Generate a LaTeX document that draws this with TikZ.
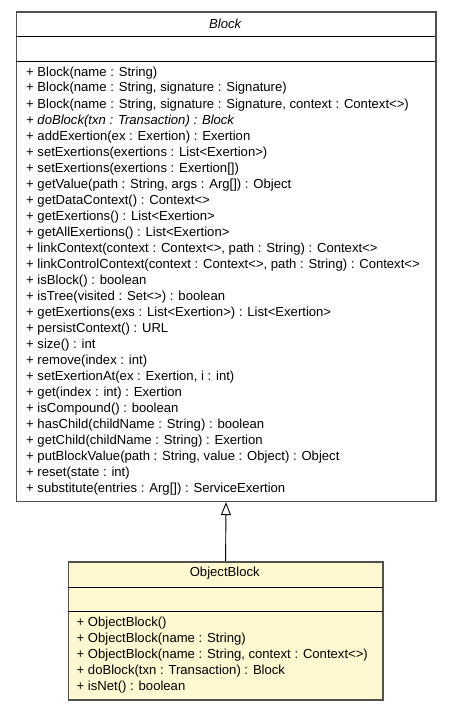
\documentclass[tikz,border=0pt]{standalone}
\usepackage{fontspec}
\setmainfont{Liberation Sans}
\usetikzlibrary{arrows.meta,positioning}

\definecolor{classfill}{RGB}{255,248,208}
\definecolor{classedge}{RGB}{80,80,80}

\tikzset{
  umlclass/.style={draw=classedge, line width=1.6pt, anchor=north west, inner sep=0pt},
  divider/.style={line width=0.8pt},
  member/.style={anchor=base west, inner sep=0pt, font=\fontsize{13.1}{15}\selectfont},
  classname/.style={inner sep=0pt, font=\fontsize{13.1}{15}\selectfont},
  extends/.style={-{Triangle[open,length=13pt,width=10pt]}, line width=0.9pt},
}

\begin{document}
\begin{tikzpicture}[x=1pt,y=-1pt]
\useasboundingbox (0,0) rectangle (451,709);

% superclass
\node[umlclass, minimum width=419.5pt, minimum height=489pt] (block) at (15.5,11.5) {};
\draw[divider] (15.5,36.7) -- (435,36.7);
\draw[divider] (15.5,61) -- (435,61);
\node[classname] (blockname) at (225.25,24) {\itshape Block};
\foreach \m [count=\i from 0] in {
  {+ Block(name : String)},
  {+ Block(name : String, signature : Signature)},
  {+ Block(name : String, signature : Signature, context : Context<>)},
  {\itshape + doBlock(txn : Transaction) : Block},
  {+ addExertion(ex : Exertion) : Exertion},
  {+ setExertions(exertions : List<Exertion>)},
  {+ setExertions(exertions : Exertion[])},
  {+ getValue(path : String, args : Arg[]) : Object},
  {+ getDataContext() : Context<>},
  {+ getExertions() : List<Exertion>},
  {+ getAllExertions() : List<Exertion>},
  {+ linkContext(context : Context<>, path : String) : Context<>},
  {+ linkControlContext(context : Context<>, path : String) : Context<>},
  {+ isBlock() : boolean},
  {+ isTree(visited : Set<>) : boolean},
  {+ getExertions(exs : List<Exertion>) : List<Exertion>},
  {+ persistContext() : URL},
  {+ size() : int},
  {+ remove(index : int)},
  {+ setExertionAt(ex : Exertion, i : int)},
  {+ get(index : int) : Exertion},
  {+ isCompound() : boolean},
  {+ hasChild(childName : String) : boolean},
  {+ getChild(childName : String) : Exertion},
  {+ putBlockValue(path : String, value : Object) : Object},
  {+ reset(state : int)},
  {+ substitute(entries : Arg[]) : ServiceExertion}}
  \node[member] (bm\i) at (26,{76+16*\i}) {\m};

% subclass
\node[umlclass, fill=classfill, minimum width=314.5pt, minimum height=138pt] (objblock) at (67.5,561) {};
\draw[divider] (67.5,587) -- (382,587);
\draw[divider] (67.5,611) -- (382,611);
\node[classname] (objblockname) at (224.75,573) {ObjectBlock};
\foreach \m [count=\i from 0] in {
  {+ ObjectBlock()},
  {+ ObjectBlock(name : String)},
  {+ ObjectBlock(name : String, context : Context<>)},
  {+ doBlock(txn : Transaction) : Block},
  {+ isNet() : boolean}}
  \node[member] (om\i) at (76.5,{626+16*\i}) {\m};

\draw[extends] (objblock.north) -- (block.south);
\end{tikzpicture}
\end{document}
